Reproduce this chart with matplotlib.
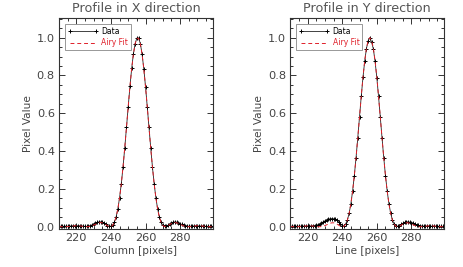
import matplotlib
matplotlib.use("Agg")
import matplotlib.pyplot as plt
import numpy as np
from matplotlib.ticker import MultipleLocator

# ---------------- data ----------------
x_pix = list(range(210, 300))  # pixel positions 210..299

data_x = [0.0030, 0.0025, 0.0028, 0.0022, 0.0030, 0.0027, 0.0035, 0.0040, 0.0048, 0.0050,
          0.0055, 0.0052, 0.0050, 0.0040, 0.0030, 0.0022, 0.0020, 0.0035, 0.0060, 0.0095,
          0.0140, 0.0190, 0.0230, 0.0255, 0.0262, 0.0245, 0.0200, 0.0135, 0.0060, 0.0020,
          0.0035, 0.0090, 0.0240, 0.0520, 0.0940, 0.1530, 0.2270, 0.3160, 0.4170, 0.5250,
          0.6350, 0.7420, 0.8370, 0.9140, 0.9690, 0.9975,
          0.9990, 0.9690, 0.9140, 0.8360, 0.7410, 0.6350, 0.5260, 0.4180, 0.3160, 0.2270,
          0.1525, 0.0940, 0.0515, 0.0235, 0.0080, 0.0025, 0.0030, 0.0075, 0.0140, 0.0200,
          0.0240, 0.0255, 0.0245, 0.0210, 0.0165, 0.0120, 0.0080, 0.0050, 0.0030, 0.0025,
          0.0028, 0.0035, 0.0040, 0.0042, 0.0045, 0.0040, 0.0038, 0.0032, 0.0028, 0.0025,
          0.0022, 0.0020, 0.0022, 0.0020]

fit_x = [0.0009, 0.0005, 0.0001, 0.0000, 0.0001, 0.0006, 0.0015, 0.0026, 0.0038, 0.0046,
         0.0051, 0.0051, 0.0045, 0.0033, 0.0020, 0.0007, 0.0000, 0.0003, 0.0018, 0.0046,
         0.0084, 0.0128, 0.0171, 0.0205, 0.0217, 0.0206, 0.0170, 0.0116, 0.0054, 0.0007,
         0.0006, 0.0070, 0.0229, 0.0511, 0.0937, 0.1524, 0.2269, 0.3160, 0.4175, 0.5258,
         0.6356, 0.7415, 0.8360, 0.9133, 0.9680, 0.9964,
         0.9964, 0.9680, 0.9133, 0.8360, 0.7415, 0.6356, 0.5258, 0.4175, 0.3160, 0.2269,
         0.1524, 0.0937, 0.0511, 0.0229, 0.0070, 0.0006, 0.0007, 0.0054, 0.0116, 0.0170,
         0.0206, 0.0217, 0.0205, 0.0171, 0.0128, 0.0084, 0.0046, 0.0018, 0.0003, 0.0000,
         0.0007, 0.0020, 0.0033, 0.0045, 0.0051, 0.0051, 0.0046, 0.0038, 0.0026, 0.0015,
         0.0006, 0.0001, 0.0000, 0.0001]

data_y = [0.0030, 0.0028, 0.0030, 0.0025, 0.0030, 0.0028, 0.0030, 0.0032, 0.0035, 0.0030,
          0.0032, 0.0035, 0.0040, 0.0048, 0.0060, 0.0080, 0.0110, 0.0150, 0.0200, 0.0255,
          0.0310, 0.0360, 0.0400, 0.0425, 0.0435, 0.0425, 0.0390, 0.0330, 0.0250, 0.0150,
          0.0060, 0.0050, 0.0150, 0.0360, 0.0710, 0.1210, 0.1880, 0.2700, 0.3660, 0.4710,
          0.5810, 0.6890, 0.7900, 0.8760, 0.9420, 0.9840, 1.0000,
          0.9760, 0.9400, 0.8740, 0.7890, 0.6890, 0.5810, 0.4710, 0.3660, 0.2700, 0.1880,
          0.1215, 0.0710, 0.0360, 0.0145, 0.0045, 0.0030, 0.0060, 0.0120, 0.0180, 0.0230,
          0.0255, 0.0260, 0.0245, 0.0215, 0.0180, 0.0140, 0.0100, 0.0070, 0.0050, 0.0040,
          0.0035, 0.0033, 0.0030, 0.0030, 0.0028, 0.0027, 0.0025, 0.0025, 0.0024, 0.0022,
          0.0022, 0.0020, 0.0020]

fit_y = [0.0008, 0.0005, 0.0002, 0.0000, 0.0000, 0.0004, 0.0010, 0.0019, 0.0030, 0.0040,
         0.0047, 0.0050, 0.0047, 0.0037, 0.0025, 0.0012, 0.0003, 0.0000, 0.0008, 0.0029,
         0.0061, 0.0102, 0.0145, 0.0182, 0.0206, 0.0207, 0.0186, 0.0139, 0.0081, 0.0026,
         0.0000, 0.0028, 0.0136, 0.0353, 0.0706, 0.1212, 0.1879, 0.2697, 0.3657, 0.4710,
         0.5811, 0.6897, 0.7906, 0.8772, 0.9438, 0.9857, 1.0000,
         0.9857, 0.9438, 0.8772, 0.7906, 0.6897, 0.5811, 0.4710, 0.3657, 0.2697, 0.1879,
         0.1212, 0.0706, 0.0353, 0.0136, 0.0028, 0.0000, 0.0026, 0.0081, 0.0139, 0.0186,
         0.0207, 0.0206, 0.0182, 0.0145, 0.0102, 0.0061, 0.0029, 0.0008, 0.0000, 0.0003,
         0.0012, 0.0025, 0.0037, 0.0047, 0.0050, 0.0047, 0.0040, 0.0030, 0.0019, 0.0010,
         0.0004, 0.0000, 0.0000]

titles = ["Profile in X direction", "Profile in Y direction"]
xlabels = ["Column [pixels]", "Line [pixels]"]
ylabel = "Pixel Value"
legend_labels = ["Data", "Airy Fit"]
xticks = [220, 240, 260, 280]
yticks = [0.0, 0.2, 0.4, 0.6, 0.8, 1.0]

# ---------------- figure ----------------
plt.rcParams['font.family'] = ['DejaVu Sans']
W, H = 463, 267
fig = plt.figure(figsize=(W / 100, H / 100), dpi=100)

axc = '#333333'
txtc = '#444444'
panels = [(59, data_x, fit_x), (290.3, data_y, fit_y)]
for k, (left_px, dvals, fvals) in enumerate(panels):
    ax = fig.add_axes([left_px / W, 1 - 229 / H, 154 / W, 211 / H])
    ax.plot(x_pix, dvals, color='#222222', lw=0.6, marker='+', ms=3.2, mew=0.7,
            mec='black', label=legend_labels[0])
    ax.plot(x_pix, fvals, color='#e0202a', lw=0.7, ls=(0, (4, 3)),
            label=legend_labels[1])
    ax.set_xlim(210, 299)
    ax.set_ylim(-0.012, 1.104)
    ax.set_xticks(xticks)
    ax.set_yticks(yticks)
    ax.set_yticklabels([f"{v:.1f}" for v in yticks])
    ax.xaxis.set_minor_locator(MultipleLocator(5))
    ax.yaxis.set_minor_locator(MultipleLocator(0.05))
    ax.tick_params(which='both', direction='in', top=True, right=True,
                   colors=axc, labelcolor=txtc, labelsize=8.2, width=0.7)
    ax.tick_params(which='major', length=4, pad=3)
    ax.tick_params(which='minor', length=2)
    for s in ax.spines.values():
        s.set_color(axc)
        s.set_linewidth(0.8)
    ax.set_title(titles[k], fontsize=9.2, color='#555555', pad=4)
    ax.set_xlabel(xlabels[k], fontsize=7.6, color=txtc, labelpad=2)
    ax.set_ylabel(ylabel, fontsize=7.6, color=txtc, labelpad=3)
    leg = ax.legend(loc='upper left', fontsize=5.5, numpoints=2, handlelength=4.0,
                    handleheight=0.6, fancybox=False, framealpha=1,
                    edgecolor='#888888', borderpad=0.35, labelspacing=0.3,
                    handletextpad=0.4, borderaxespad=0.8)
    leg.get_frame().set_linewidth(0.6)
    leg.get_texts()[0].set_color('black')
    leg.get_texts()[1].set_color('#e0202a')

fig.savefig('out.png', dpi=100)
